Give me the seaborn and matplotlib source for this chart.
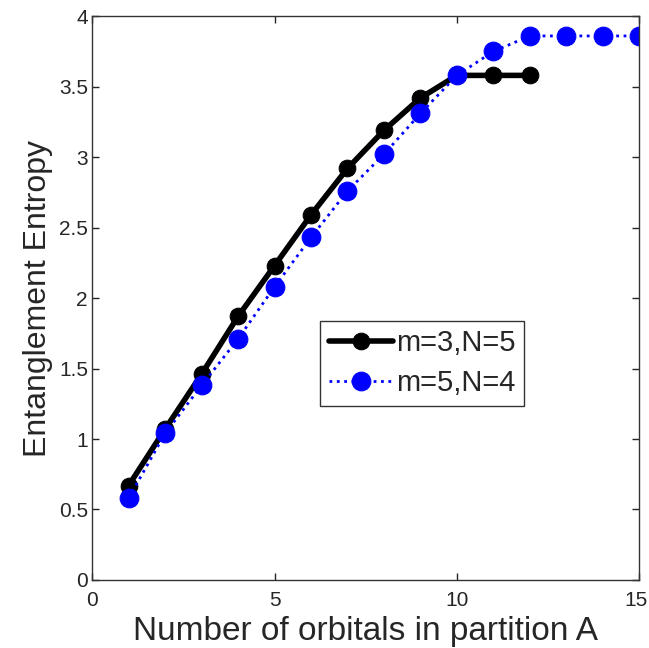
import matplotlib

matplotlib.use("Agg")
import matplotlib.pyplot as plt
import matplotlib.transforms as mtransforms
import pandas as pd
import seaborn as sns

orbitals_m3 = [1, 2, 3, 4, 5, 6, 7, 8, 9, 10, 11, 12]
entropy_m3 = [0.67, 1.07, 1.46, 1.87, 2.23, 2.59, 2.92, 3.19, 3.42, 3.58, 3.58, 3.58]

orbitals_m5 = [1, 2, 3, 4, 5, 6, 7, 8, 9, 10, 11, 12, 13, 14, 15]
entropy_m5 = [0.58, 1.04, 1.38, 1.71, 2.08, 2.43, 2.76, 3.02, 3.31, 3.58,
              3.75, 3.86, 3.86, 3.86, 3.86]

labels = ["m=3,N=5", "m=5,N=4"]

df = pd.concat(
    [
        pd.DataFrame({"orbitals": orbitals_m3, "entropy": entropy_m3, "series": labels[0]}),
        pd.DataFrame({"orbitals": orbitals_m5, "entropy": entropy_m5, "series": labels[1]}),
    ],
    ignore_index=True,
)

sns.set_style("ticks")
plt.rcParams["font.family"] = ["Liberation Sans", "DejaVu Sans"]

fig = plt.figure(figsize=(6.49, 6.48), dpi=100)
ax = fig.add_axes([0.142, 0.105, 0.843, 0.870])

# black solid line
sns.lineplot(
    data=df[df["series"] == labels[0]],
    x="orbitals",
    y="entropy",
    ax=ax,
    color="black",
    linewidth=4,
    marker="o",
    markersize=12,
    markeredgecolor="black",
    label=labels[0],
)
# blue dotted line
sns.lineplot(
    data=df[df["series"] == labels[1]],
    x="orbitals",
    y="entropy",
    ax=ax,
    color="blue",
    linewidth=2,
    linestyle=":",
    marker="o",
    markersize=13.5,
    markeredgecolor="blue",
    label=labels[1],
)

ax.set_xlim(0, 15)
ax.set_ylim(0, 4)
ax.set_xticks([0, 5, 10, 15])
ax.set_yticks([0, 0.5, 1, 1.5, 2, 2.5, 3, 3.5, 4])
ax.set_yticklabels(["0", "0.5", "1", "1.5", "2", "2.5", "3", "3.5", "4"])
ax.tick_params(direction="in", top=True, right=True, labelsize=15, length=5, width=1)
ax.tick_params(axis="y", pad=3)
ax.tick_params(axis="x", pad=8)
for s in ax.spines.values():
    s.set_linewidth(1)
    s.set_color("#333333")

# nudge the last x tick label inwards so it stays on the canvas
last = ax.get_xticklabels()[-1]
last.set_transform(last.get_transform() + mtransforms.ScaledTranslation(-0.03, 0, fig.dpi_scale_trans))

ax.set_xlabel("Number of orbitals in partition A", fontsize=24, labelpad=4)
ax.set_ylabel("Entanglement Entropy", fontsize=23, labelpad=4)

leg = ax.legend(
    loc="upper left",
    bbox_to_anchor=(0.417, 0.46),
    borderaxespad=0,
    fontsize=21,
    frameon=True,
    fancybox=False,
    edgecolor="black",
    handlelength=2.2,
    handletextpad=0.1,
    borderpad=0.3,
    labelspacing=0.4,
)
leg.get_frame().set_linewidth(1)

fig.savefig("out.png", dpi=100)
